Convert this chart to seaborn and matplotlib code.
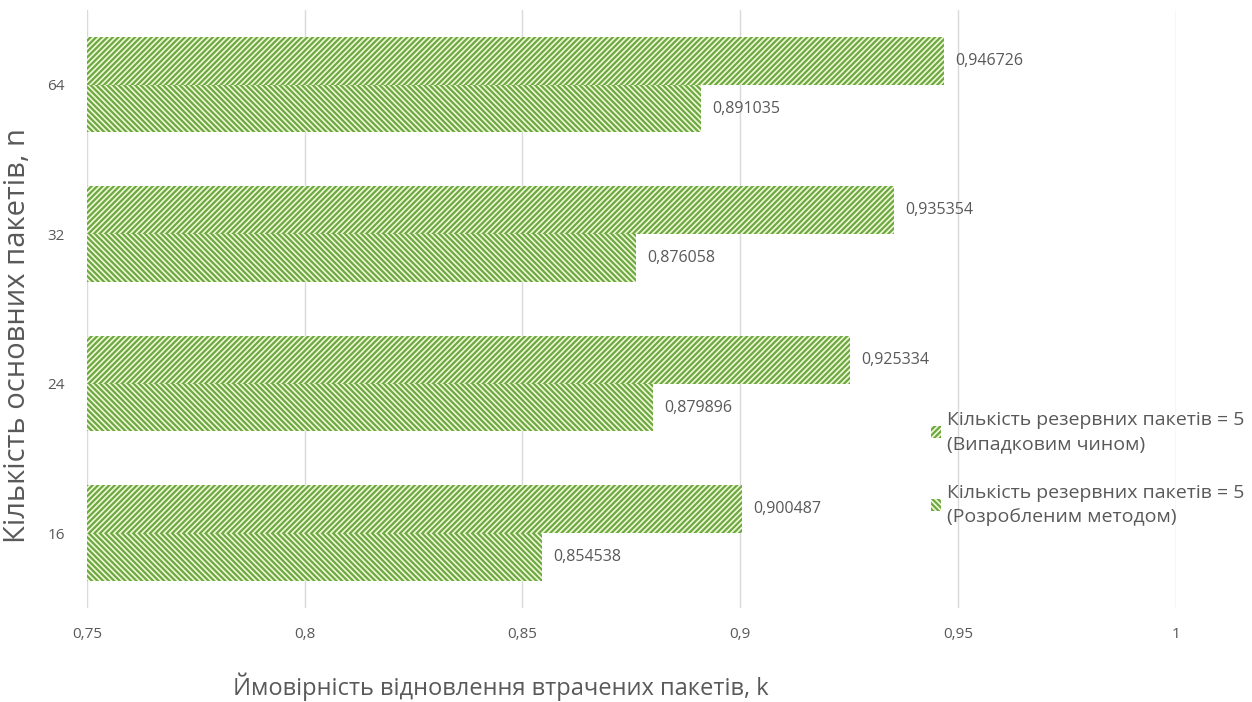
import matplotlib
matplotlib.use("Agg")
import matplotlib.pyplot as plt
from matplotlib.patches import Patch
import seaborn as sns
import pandas as pd

categories = ["64", "32", "24", "16"]
random_values = [0.946726, 0.935354, 0.925334, 0.900487]
method_values = [0.891035, 0.876058, 0.879896, 0.854538]
series_names = [
    "Кількість резервних пакетів = 5\n(Випадковим чином)",
    "Кількість резервних пакетів = 5\n(Розробленим методом)",
]
xticks = [0.75, 0.8, 0.85, 0.9, 0.95, 1.0]
xtick_labels = ["0,75", "0,8", "0,85", "0,9", "0,95", "1"]

df = pd.DataFrame({
    "n": categories * 2,
    "k": random_values + method_values,
    "series": [series_names[0]] * 4 + [series_names[1]] * 4,
})

sns.set_theme(style="white")
plt.rcParams["font.family"] = ["Open Sans", "DejaVu Sans"]
plt.rcParams["hatch.linewidth"] = 1.6

green = "#6CA843"
pale = "#F0F8D4"
text_grey = "#595959"
hatches = ["//////", "\\\\\\\\\\\\"]

fig = plt.figure(figsize=(12.52, 7.02), dpi=100)
ax = fig.add_axes([0.0695, 0.134, 0.8695, 0.852])

sns.barplot(data=df, y="n", x="k", hue="series", order=categories,
            hue_order=series_names, orient="h", ax=ax, width=0.64,
            legend=False, errorbar=None)

for container, hatch in zip(ax.containers, hatches):
    for bar in container:
        bar.set_facecolor(pale)
        bar.set_edgecolor(green)
        bar.set_hatch(hatch)
        bar.set_linewidth(0)
    labels = [f"{v:.6f}".rstrip("0").replace(".", ",") for v in container.datavalues]
    ax.bar_label(container, labels=labels, padding=8, fontsize=11.5,
                 color=text_grey)

ax.set_xlim(0.75, 1.0)
ax.set_xticks(xticks)
ax.set_xticklabels(xtick_labels, fontsize=11, color=text_grey)
ax.tick_params(axis="x", pad=14, length=0)
ax.tick_params(axis="y", length=0, pad=16, labelsize=11, labelcolor=text_grey)
ax.grid(axis="x", color="#D9D9D9", linewidth=1)
ax.set_axisbelow(True)
for side in ["top", "right", "bottom", "left"]:
    ax.spines[side].set_visible(False)

ax.set_xlabel("Ймовірність відновлення втрачених пакетів, k", fontsize=17,
              color=text_grey, va="center")
ax.xaxis.set_label_coords(0.38, -0.132)
ax.set_ylabel("Кількість основних пакетів, n", fontsize=21, color=text_grey,
              va="center")
ax.yaxis.set_label_coords(-0.064, 0.455)

handles = [Patch(facecolor=pale, edgecolor=green, hatch=h, linewidth=0)
           for h in hatches]
leg = ax.legend(handles, series_names, loc="upper left",
                bbox_to_anchor=(0.759, 0.358), frameon=False, fontsize=14,
                labelcolor=text_grey, handlelength=0.55, handleheight=0.55,
                handletextpad=0.3, labelspacing=1.6)
for t in leg.get_texts():
    t.set_linespacing(1.4)

fig.savefig("out.png", dpi=100, facecolor="white")
